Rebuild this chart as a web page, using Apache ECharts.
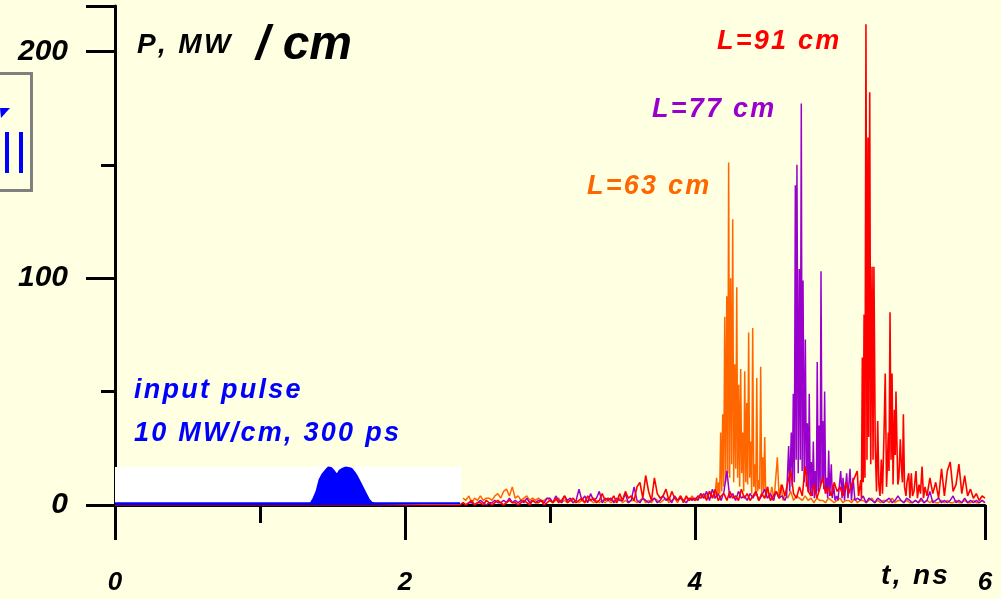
<!DOCTYPE html>
<html>
<head>
<meta charset="utf-8">
<script src="https://cdn.jsdelivr.net/npm/echarts@6/dist/echarts.min.js"></script>
<style>
  html, body { margin: 0; padding: 0; background: #FFFFE1; }
  #main { width: 1001px; height: 599px; }
</style>
</head>
<body>
<div id="main"></div>
<script>
// noise runs are sampled every STEP ns, peaks are given as [t, P] pairs
var STEP = 0.02;

var xTicks = [0, 2, 4, 6];
var yTicks = [0, 100, 200];

// input pulse, 10 MW/cm, 300 ps
var inputPulse = [[0, 0.8], [1.35, 0.8], [1.37, 3], [1.39, 6], [1.41, 11], [1.43, 13.5], [1.45, 15],
  [1.47, 16.5], [1.49, 16.3], [1.51, 15], [1.53, 13.2], [1.55, 15.2], [1.57, 16], [1.59, 16.5],
  [1.61, 16.3], [1.63, 16], [1.65, 14.5], [1.67, 12.5], [1.69, 10], [1.71, 7.5], [1.73, 5],
  [1.75, 2.5], [1.77, 1], [1.79, 0.8], [2.38, 0.8]];

// L = 63 cm
var orangePre = [3,2,4,1,3,2,4,2,3,3, 2,4,5,3,6,7,4,8,3,4, 2,3,4,2,3,2,3,2,2,3,
  2,1,2,3,1,2,1,2,1,2, 1,2,1,2,2,1,2,1,2,1, 2,1,2,1,3,1,2,1,2,2, 1,2,3,1,2,1,3,2,1,2,
  3,1,2,3,1,4,2,3,2,4, 2,3,5,3,4,6,4];
var orangePeak = [[4.136,3],[4.149,12],[4.156,4],[4.163,10],[4.170,5],[4.177,32],[4.184,6],[4.191,40],
  [4.198,8],[4.205,83],[4.212,10],[4.219,92],[4.226,14],[4.232,151],[4.239,12],[4.246,100],[4.253,18],
  [4.260,126],[4.267,10],[4.274,62],[4.281,16],[4.288,96],[4.294,12],[4.301,53],[4.308,8],[4.315,60],
  [4.322,14],[4.329,32],[4.336,6],[4.343,59],[4.350,10],[4.357,45],[4.363,9],[4.370,76],[4.377,12],
  [4.384,28],[4.391,5],[4.398,78],[4.405,8],[4.412,18],[4.419,4],[4.426,56],[4.432,6],[4.439,11],
  [4.446,7],[4.453,61],[4.460,5],[4.467,21],[4.474,6],[4.481,30],[4.488,3],[4.501,8],[4.510,3],
  [4.522,5],[4.530,8],[4.545,2],[4.568,21],[4.580,3],[4.593,9],[4.607,2]];
var orangePost = [5,3,6,2,4,3,2,4,2,3, 1,3,2,2,1,3,2,1,2,3, 1,2,2,1,3,1,2,2,1,2, 3,1,2,1,2,2,1,3,1,2,
  2,1,2,1,1,2,1,2,1,2, 1,2,1,1,2,1,2,1,1,2, 1,1,2,1,1,2,1,1,2,1];

// L = 77 cm
var purplePre = [1,0,1,1,0,1,2,1,0,1, 1,2,1,1,2,1,3,1,2,1, 2,1,3,1,2,1,2,2,1,3, 3,1,4,2,1,4,2,3,1,2,
  7,2,4,1,5,2,3,6,1,3, 2,3,1,3,2,2,5,1,2,8, 2,1,3,2,1,2,3,1,2,4, 2,3,1,4,2,3,2,1,3,2,
  3,2,5,3,6,2,7,3,5,2, 6,15,3,5,2,6,3,4,2,5, 3,6,2,4,7,3,5,2,6,3, 4,2];
var purplePeak = [[4.632,4],[4.646,26],[4.653,6],[4.664,32],[4.671,8],[4.678,49],[4.685,10],[4.692,141],
  [4.698,20],[4.703,150],[4.712,14],[4.719,104],[4.726,20],[4.733,177],[4.739,15],[4.745,99],[4.753,10],
  [4.761,73],[4.768,8],[4.775,36],[4.782,6],[4.788,49],[4.795,5],[4.802,19],[4.809,4],[4.816,28],
  [4.823,3],[4.830,15],[4.837,5],[4.843,63],[4.850,6],[4.857,35],[4.863,8],[4.869,103],[4.876,10],
  [4.881,37],[4.888,7],[4.894,50],[4.901,6],[4.908,12],[4.915,3],[4.922,24],[4.929,4],[4.940,18],
  [4.947,3],[4.956,9],[4.966,2],[4.977,4],[4.986,2],[5.005,15],[5.014,3],[5.021,12],[5.031,2],
  [5.046,14],[5.055,3],[5.069,16],[5.079,2],[5.090,12],[5.103,2]];
var purplePost = [3,2,4,1,3,2,1,3,2,1, 2,3,1,2,4,2,1,3,2,1, 2,1,3,1,2,6,1,2,3,1, 2,1,2,4,1,2,1,3,1,2,
  1,2,1,2,1];

// L = 91 cm
var redLead = [[0, 0], [2.38, 0]];
var redPre = [1,0,1,2,0,1,1,0,2,1, 0,1,2,1,0,1,2,1,1,0, 1,2,1,0,2,1,1,2,0,1, 2,1,3,1,2,4,1,2,3,1,
  2,3,1,4,2,3,1,2,5,2, 3,2,4,1,5,2,6,3,4,2, 8,10,3,13,6,2,12,5,3,4, 7,2,6,3,2,4,1,4,2,3,
  2,4,3,5,2,6,3,7,2,4, 5,2,6,3,4,2,7,3,5,2, 4,6,2,5,3,8,2,4,6,3, 9,4,10,15,5,3,8,4,17,6,
  4,9,3,7,12,5,8,4,10,6, 8,4,10,5,9];
var redPeak = [[5.119,15],[5.128,4],[5.143,11],[5.148,3],[5.154,65],[5.160,10],[5.166,84],[5.172,12],
  [5.179,212],[5.186,20],[5.193,162],[5.198,30],[5.205,182],[5.212,18],[5.221,105],[5.228,20],
  [5.234,105],[5.243,26],[5.252,6],[5.260,37],[5.268,9],[5.276,4],[5.285,20],[5.293,5],[5.303,30],
  [5.312,58],[5.321,8],[5.328,20],[5.333,32],[5.338,15],[5.345,85],[5.352,20],[5.359,58],[5.366,9],
  [5.375,42],[5.381,22],[5.386,50],[5.393,26],[5.399,9],[5.406,12],[5.416,29],[5.424,16],[5.431,10],
  [5.437,40],[5.445,8],[5.455,4],[5.462,10],[5.474,14],[5.482,3],[5.492,14],[5.500,4],[5.510,6],
  [5.524,15],[5.534,3],[5.545,9],[5.555,5],[5.566,17],[5.576,3],[5.586,8]];
var redPost = [4,12,5,10,3,16,4,15,19,6,9,18,5,13,4,7,3,5,2,4,3];

function run(t0, vals) {
  return vals.map(function (v, i) { return [+(t0 + i * STEP).toFixed(3), v]; });
}

var orangeData = run(2.40, orangePre).concat(orangePeak, run(4.62, orangePost));
var purpleData = run(2.40, purplePre).concat(purplePeak, run(5.12, purplePost));
var redData = redLead.concat(run(2.40, redPre), redPeak, run(5.60, redPost));

var FONT = '"Liberation Sans", Arial, sans-serif';
var BG = '#FFFFE1';
function sp(s) { return s.split('').join('\u200A'); }
function label(text, x, y, size, color) {
  return {
    type: 'text', x: x, y: y, z: 100,
    style: {
      text: text, fill: color, textAlign: 'left', textVerticalAlign: 'middle',
      font: 'italic bold ' + size + 'px ' + FONT
    }
  };
}

var chart = echarts.init(document.getElementById('main'));
var option = {
  backgroundColor: BG,
  animation: false,
  grid: { left: 115, right: 16, top: 6, bottom: 94 },
  xAxis: [
    {
      type: 'value', min: 0, max: 6, interval: 2, position: 'bottom',
      axisLine: { lineStyle: { color: '#000', width: 3 } },
      axisTick: { length: 35, lineStyle: { color: '#000', width: 3 } },
      axisLabel: {
        margin: 65, fontSize: 26, fontWeight: 'bold', fontStyle: 'italic', fontFamily: FONT, color: '#000',
        formatter: function (v) { return xTicks.indexOf(v) >= 0 ? String(v) : ''; }
      },
      splitLine: { show: false }
    },
    {
      type: 'value', min: 0, max: 6, interval: 1, position: 'bottom',
      axisLine: { show: false },
      axisTick: { length: 18, lineStyle: { color: '#000', width: 3 } },
      axisLabel: { show: false },
      splitLine: { show: false }
    }
  ],
  yAxis: [
    {
      type: 'value', min: 0, max: 220, interval: 100, position: 'left',
      axisLine: { show: true, lineStyle: { color: '#000', width: 3 } },
      axisTick: { show: true, length: 29, lineStyle: { color: '#000', width: 3 } },
      axisLabel: {
        margin: 47, fontSize: 30, fontWeight: 'bold', fontStyle: 'italic', fontFamily: FONT, color: '#000',
        padding: [7, 0, 0, 0],
        formatter: function (v) { return yTicks.indexOf(v) >= 0 ? String(v) : ''; }
      },
      splitLine: { show: false }
    },
    {
      type: 'value', min: 0, max: 220, interval: 50, position: 'left',
      axisLine: { show: false },
      axisTick: { show: true, length: 14, lineStyle: { color: '#000', width: 3 } },
      axisLabel: { show: false },
      splitLine: { show: false }
    }
  ],
  series: [
    {
      name: 'box', type: 'line', data: [], z: 2, silent: true,
      markArea: {
        silent: true,
        itemStyle: { color: '#FFFFFF' },
        data: [[{ coord: [0, 0] }, { coord: [2.386, 16.7] }]]
      }
    },
    {
      name: 'L=63 cm', type: 'line', data: orangeData, z: 3, symbol: 'none', silent: true,
      lineStyle: { color: '#FF6600', width: 1.5 }
    },
    {
      name: 'L=77 cm', type: 'line', data: purpleData, z: 4, symbol: 'none', silent: true,
      lineStyle: { color: '#9900CC', width: 1.5 }
    },
    {
      name: 'L=91 cm', type: 'line', data: redData, z: 5, symbol: 'none', silent: true,
      lineStyle: { color: '#FF0000', width: 1.6 }
    },
    {
      name: 'input pulse', type: 'line', data: inputPulse, z: 6, symbol: 'none', silent: true,
      lineStyle: { color: '#0000FF', width: 2 },
      areaStyle: { color: '#0000FF', opacity: 1 }
    }
  ],
  graphic: [
    label(sp('P, MW'), 137, 45, 28, '#000'),
    label('/ cm', 256, 46, 48, '#000'),
    label(sp('L=91 cm'), 717, 42, 27, '#FF0000'),
    label(sp('L=77 cm'), 652, 110, 27, '#9900CC'),
    label(sp('L=63 cm'), 587, 187, 27, '#FF6600'),
    label(sp('input pulse'), 134, 391, 27, '#0000FF'),
    label(sp('10 MW/cm, 300 ps'), 134, 434, 27, '#0000FF'),
    label(sp('t, ns'), 881, 576, 28, '#000'),
    { type: 'rect', z: 100, shape: { x: -6, y: 73.5, width: 37.5, height: 117 },
      style: { fill: 'transparent', stroke: '#808080', lineWidth: 3 } },
    { type: 'polygon', z: 100, shape: { points: [[0, 108], [10, 108], [1, 118]] }, style: { fill: '#0000FF' } },
    { type: 'rect', z: 100, shape: { x: 5, y: 132, width: 4, height: 41 }, style: { fill: '#0000FF' } },
    { type: 'rect', z: 100, shape: { x: 19, y: 132, width: 4, height: 41 }, style: { fill: '#0000FF' } }
  ]
};
option && chart.setOption(option);
</script>
</body>
</html>
